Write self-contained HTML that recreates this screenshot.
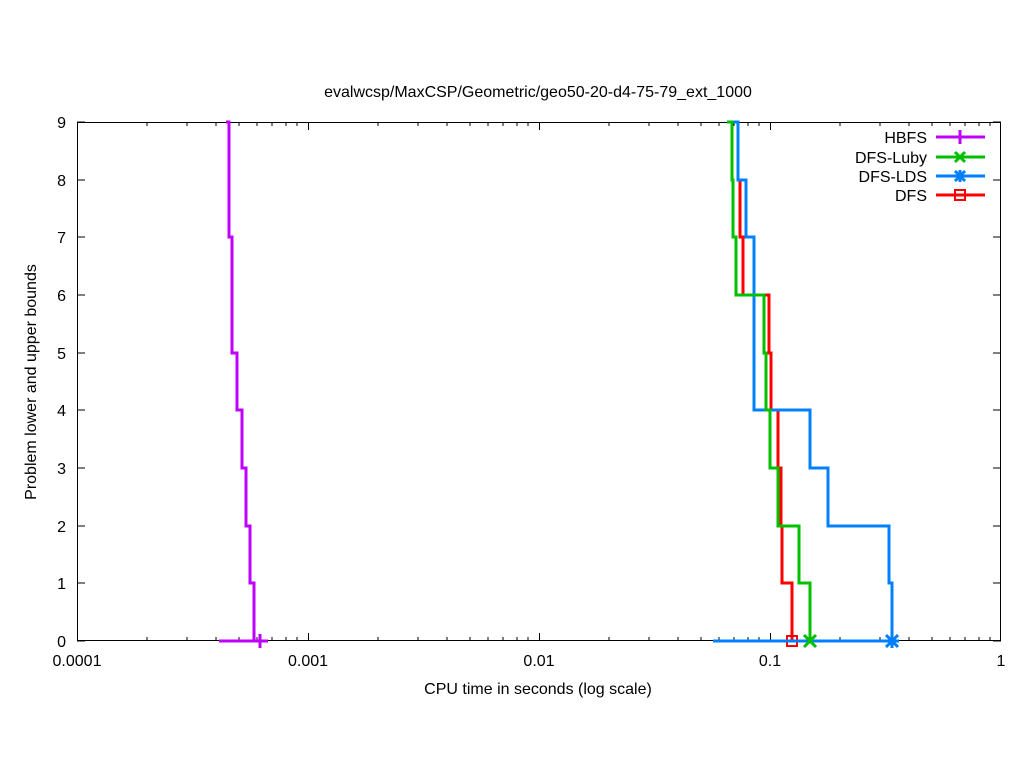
<!DOCTYPE html><html><head><style>body{margin:0;background:#fff}svg{display:block}text{font-family:"Liberation Sans",sans-serif;font-size:16px;fill:#000}</style></head><body>
<svg width="1024" height="768" viewBox="0 0 1024 768">
<rect width="1024" height="768" fill="#fff"/>
<text x="538" y="97" text-anchor="middle">evalwcsp/MaxCSP/Geometric/geo50-20-d4-75-79_ext_1000</text>
<g stroke="#000" stroke-width="1" fill="none">
<rect x="77.5" y="122.5" width="923" height="518"/>
<path d="M77 641h8M77 583h8M77 526h8M77 468h8M77 410h8M77 353h8M77 295h8M77 237h8M77 180h8M77 122h8M1001 641h-8M1001 583h-8M1001 526h-8M1001 468h-8M1001 410h-8M1001 353h-8M1001 295h-8M1001 237h-8M1001 180h-8M1001 122h-8"/>
<path d="M77.5 641v-8M308.5 641v-8M539.5 641v-8M770.5 641v-8M1000.5 641v-8M77.5 122v8M308.5 122v8M539.5 122v8M770.5 122v8M1000.5 122v8
M147 641v-4M187 641v-4M216 641v-4M239 641v-4M257 641v-4M272 641v-4M286 641v-4M297 641v-4
M378 641v-4M418 641v-4M447 641v-4M470 641v-4M488 641v-4M503 641v-4M517 641v-4M528 641v-4
M609 641v-4M649 641v-4M678 641v-4M701 641v-4M719 641v-4M734 641v-4M748 641v-4M759 641v-4
M840 641v-4M880 641v-4M909 641v-4M932 641v-4M950 641v-4M965 641v-4M979 641v-4M990 641v-4
M147 122v4M187 122v4M216 122v4M239 122v4M257 122v4M272 122v4M286 122v4M297 122v4
M378 122v4M418 122v4M447 122v4M470 122v4M488 122v4M503 122v4M517 122v4M528 122v4
M609 122v4M649 122v4M678 122v4M701 122v4M719 122v4M734 122v4M748 122v4M759 122v4
M840 122v4M880 122v4M909 122v4M932 122v4M950 122v4M965 122v4M979 122v4M990 122v4"/>
</g>
<g text-anchor="end">
<text x="66" y="647">0</text><text x="66" y="589">1</text><text x="66" y="532">2</text><text x="66" y="474">3</text><text x="66" y="416">4</text><text x="66" y="359">5</text><text x="66" y="301">6</text><text x="66" y="243">7</text><text x="66" y="186">8</text><text x="66" y="128">9</text>
</g>
<g text-anchor="middle">
<text x="77" y="666">0.0001</text><text x="308" y="666">0.001</text><text x="539" y="666">0.01</text><text x="770" y="666">0.1</text><text x="1001" y="666">1</text>
<text x="538" y="694">CPU time in seconds (log scale)</text>
<text transform="translate(36 382) rotate(-90)">Problem lower and upper bounds</text>
</g>
<g fill="none" stroke-width="3">
<path stroke="#c000ff" d="M226 122h3v115h3v116h5v57h5v58h4v58h4v57h4v58M219 641h49M260 634v14M253 641h14"/>
<path stroke="#ff0000" d="M740 180v57h3v58h26v58h2v57h7v58h3v58h1v57h10v58M722 641h70"/>
<rect x="787" y="636" width="10" height="10" stroke="#ff0000" stroke-width="2" fill="none"/>
<path stroke="#0080ff" d="M732 122h6v58h8v57h8v173h56v58h18v58h61v57h3v58M713 641h179M886 635l12 12M886 647l12-12M892 634v14M885 641h14"/>
<path stroke="#00c000" d="M727 122h5v58h1v57h3v58h28v58h2v57h4v58h8v58h21v57h11v58M804 635l12 12M804 647l12-12"/>
</g>
<g text-anchor="end">
<text x="927" y="143">HBFS</text><text x="927" y="163">DFS-Luby</text><text x="927" y="182">DFS-LDS</text><text x="927" y="201">DFS</text>
</g>
<g fill="none" stroke-width="3">
<path stroke="#c000ff" d="M936 137h49M960 130v14"/>
<path stroke="#00c000" d="M936 157h49M955 152l10 10M955 162l10-10"/>
<path stroke="#0080ff" d="M936 176h49M955 171l10 10M955 181l10-10M960 170v12"/>
<path stroke="#ff0000" d="M936 195h49"/>
<rect x="955" y="190" width="10" height="10" stroke="#ff0000" stroke-width="2"/>
</g>
</svg></body></html>
